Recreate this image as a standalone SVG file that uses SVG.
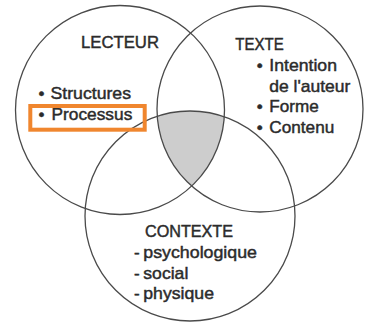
<svg xmlns="http://www.w3.org/2000/svg" width="365" height="325" viewBox="0 0 365 325">
  <style>
    .c { fill: none; stroke: #4a4a4a; stroke-width: 1.3; }
    .t { font-family: "Liberation Sans", Arial, sans-serif; font-size: 17px; fill: #2b2b2b; stroke: #2b2b2b; stroke-width: 0.45; }
    .h { font-family: "Liberation Sans", Arial, sans-serif; font-size: 17px; fill: #2b2b2b; stroke: #2b2b2b; stroke-width: 0.45; }
  </style>
  <defs>
    <clipPath id="clipL"><circle cx="120" cy="110" r="104.5"/></clipPath>
    <clipPath id="clipR"><circle cx="260" cy="109" r="103"/></clipPath>
  </defs>
  <rect x="0" y="0" width="365" height="325" fill="#ffffff"/>

  <g id="intersection" clip-path="url(#clipL)">
    <g clip-path="url(#clipR)">
      <circle cx="190" cy="216" r="105" fill="#cdcdcd"/>
    </g>
  </g>

  <g id="connectors">
    <circle class="c" cx="120" cy="110" r="104.5"/>
    <circle class="c" cx="260" cy="109" r="103"/>
    <circle class="c" cx="190" cy="216" r="105"/>
  </g>

  <g id="lecteur">
    <text class="h" x="81" y="48" textLength="78" lengthAdjust="spacingAndGlyphs">LECTEUR</text>
    <text class="t" x="38.5" y="98.5">•</text>
    <text class="t" x="50.5" y="98.5" textLength="80.5" lengthAdjust="spacingAndGlyphs">Structures</text>
    <text class="t" x="38.5" y="119.5">•</text>
    <text class="t" x="51.5" y="119.5" textLength="80.8" lengthAdjust="spacingAndGlyphs">Processus</text>
    <rect x="30.3" y="106" width="114.4" height="23.7" fill="none" stroke="#f0862e" stroke-width="4"/>
  </g>

  <g id="texte">
    <text class="h" x="235.3" y="49.5" textLength="48.4" lengthAdjust="spacingAndGlyphs">TEXTE</text>
    <text class="t" x="256.7" y="71">•</text>
    <text class="t" x="269.3" y="71" textLength="67.7" lengthAdjust="spacingAndGlyphs">Intention</text>
    <text class="t" x="269.3" y="91.5" textLength="81" lengthAdjust="spacingAndGlyphs">de l'auteur</text>
    <text class="t" x="256.7" y="112">•</text>
    <text class="t" x="269.3" y="112" textLength="49.4" lengthAdjust="spacingAndGlyphs">Forme</text>
    <text class="t" x="256.7" y="132.5">•</text>
    <text class="t" x="269.3" y="132.5" textLength="65" lengthAdjust="spacingAndGlyphs">Contenu</text>
  </g>

  <g id="contexte">
    <text class="h" x="145" y="237" textLength="88" lengthAdjust="spacingAndGlyphs">CONTEXTE</text>
    <text class="t" x="134" y="258">-</text>
    <text class="t" x="143.3" y="258" textLength="113.7" lengthAdjust="spacingAndGlyphs">psychologique</text>
    <text class="t" x="134" y="279">-</text>
    <text class="t" x="143.3" y="279" textLength="45" lengthAdjust="spacingAndGlyphs">social</text>
    <text class="t" x="134" y="299">-</text>
    <text class="t" x="143.3" y="299" textLength="70.7" lengthAdjust="spacingAndGlyphs">physique</text>
  </g>
</svg>
